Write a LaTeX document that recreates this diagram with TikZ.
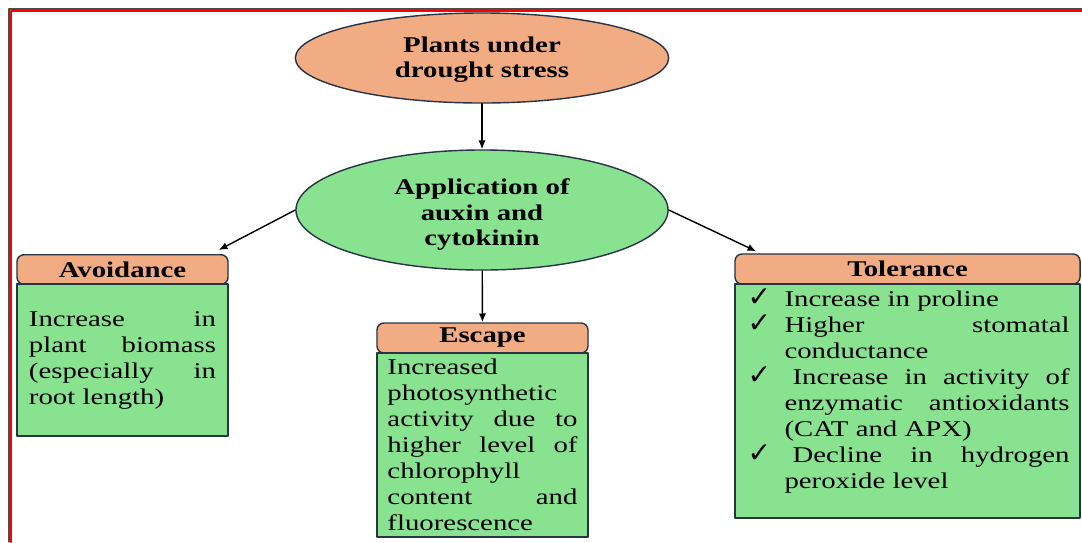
\documentclass[tikz,border=0pt]{standalone}
\usepackage{fontspec}
\setmainfont[FakeStretch=1.28]{Liberation Serif}
\newfontfamily\symfont{DejaVu Sans}
\usetikzlibrary{arrows.meta,shapes.geometric}
\definecolor{salmon}{HTML}{F2AC84}
\definecolor{leafgreen}{HTML}{88E28F}
\definecolor{edgeline}{HTML}{263445}
\newcommand{\tolitem}[1]{\par\noindent\hangindent=0.925cm\hangafter=1\makebox[0.925cm][l]{\symfont\fontsize{20}{18.5}\selectfont ✓}#1\par}
\tolerance=10000
\hbadness=10000

\begin{document}
\begin{tikzpicture}[line cap=round,line join=round,>={Latex[length=2.2mm,width=1.8mm]},x=0.025cm,y=-0.025cm,
  font=\fontsize{16}{18.5}\selectfont,
  bubble/.style={ellipse,draw=edgeline,line width=1pt,inner sep=0pt,align=center,font=\fontsize{16}{18}\selectfont\bfseries},
  headbox/.style={rectangle,rounded corners=5pt,draw=edgeline,fill=salmon,line width=1pt,minimum width=5.275cm,minimum height=0.74cm,inner sep=0pt,font=\fontsize{16}{18.5}\selectfont\bfseries},
  bodybox/.style={rectangle,draw=edgeline,fill=leafgreen,line width=1pt,inner ysep=0pt,align=justify}]
\useasboundingbox (0,0) rectangle (1082,542);
% frame
\draw [color=gray!60!black,line width=0.8pt] (9,542) -- (9,9) -- (1082,9);
\draw [color=red,line width=1.6pt] (11.3,542) -- (11.3,11.3) -- (1082,11.3);
% top
\node [bubble,fill=salmon,minimum width=9.33cm,minimum height=2.25cm,text height=31pt] (stress) at (482,58) {Plants under\\drought stress};
\node [bubble,fill=leafgreen,minimum width=9.3cm,minimum height=3cm,text height=54pt] (app) at (482,210) {Application of\\auxin and\\cytokinin};
% avoidance
\node [headbox] (avoidhead) at (122.5,269.5) {Avoidance};
\node [bodybox,text width=4.675cm,inner xsep=0.3cm,minimum height=3.8cm] (avoidbody) at (122.5,360) {Increase in\linebreak plant biomass\linebreak (especially in\linebreak root length)};
% escape
\node [headbox,minimum height=0.75cm] (escapehead) at (482.5,338) {Escape};
\node [bodybox,text width=4.75cm,inner xsep=0.2625cm,minimum height=4.6cm] (escapebody) at (482.5,445) {Increased\\photosynthetic\\activity due to\linebreak higher level of\linebreak chlorophyll\\content and\linebreak fluorescence};
% tolerance
\node [headbox,minimum width=8.625cm,minimum height=0.75cm] (tolhead) at (907.5,269) {Tolerance};
\node [bodybox,minimum width=8.625cm,minimum height=5.85cm] (tolbody) at (907.5,401) {};
\node [anchor=north west,inner sep=0pt,text width=8.05cm,align=justify] (tollist) at ([xshift=0.325cm,yshift=0.075cm]tolbody.north west) {%
\tolitem{Increase in proline}
\tolitem{Higher stomatal\linebreak conductance}
\tolitem{\hspace{0.2cm}Increase in activity of\linebreak enzymatic antioxidants\linebreak (CAT and APX)}
\tolitem{\hspace{0.2cm}Decline in hydrogen\linebreak peroxide level}};
% arrows
\draw [->,line width=1pt] (stress) -- (app);
\draw [->,line width=1pt] (app) -- (escapehead);
\draw [->,line width=1pt] (app.west) -- ([xshift=-0.25cm,yshift=0.1cm]avoidhead.north east);
\draw [->,line width=1pt] (app.east) -- ([xshift=0.55cm,yshift=0.05cm]tolhead.north west);
\end{tikzpicture}
\end{document}
